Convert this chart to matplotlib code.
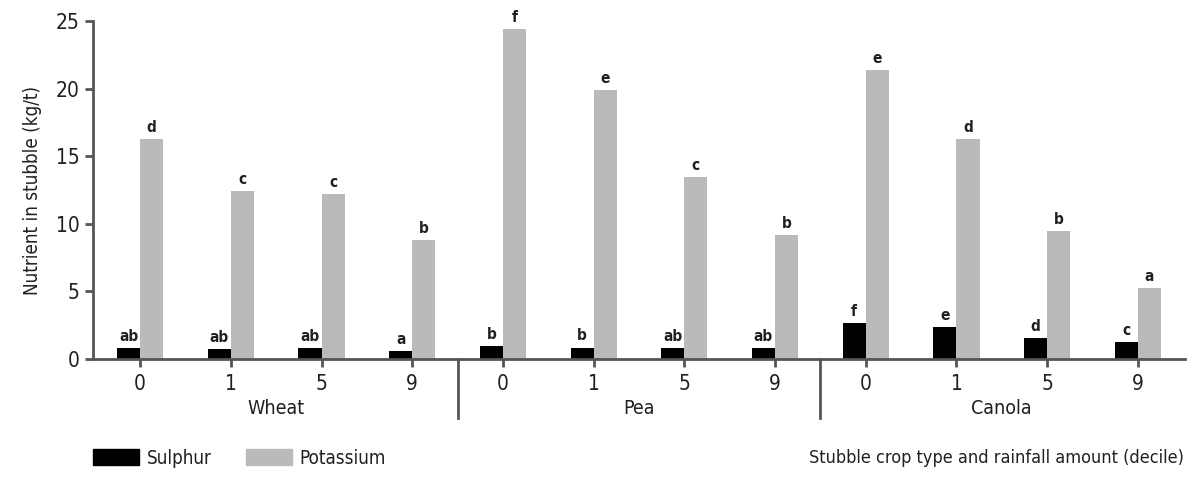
import matplotlib
matplotlib.use("Agg")
import matplotlib.pyplot as plt
from matplotlib.patches import Rectangle
import numpy as np

plt.rcParams['font.family'] = ['DejaVu Sans']
plt.rcParams['font.stretch'] = 'condensed'

crops = ['Wheat', 'Pea', 'Canola']
deciles = ['0', '1', '5', '9']
sulphur = [0.8, 0.75, 0.8, 0.6,
           0.95, 0.85, 0.8, 0.8,
           2.65, 2.35, 1.55, 1.25]
potassium = [16.25, 12.45, 12.2, 8.8,
             24.4, 19.9, 13.5, 9.2,
             21.4, 16.3, 9.5, 5.25]
sulphur_letters = ['ab', 'ab', 'ab', 'a', 'b', 'b', 'ab', 'ab', 'f', 'e', 'd', 'c']
potassium_letters = ['d', 'c', 'c', 'b', 'f', 'e', 'c', 'b', 'e', 'd', 'b', 'a']

black = '#000000'
grey = '#b9babc'
axis_col = '#555555'
text_col = '#231f20'

fig = plt.figure(figsize=(12, 4.8), dpi=100)
ax = fig.add_axes([0.0775, 0.252, 0.91, 0.704])

x = np.arange(len(sulphur))
w = 0.255
ax.bar(x - w / 2, sulphur, width=w, color=black, label='Sulphur')
ax.bar(x + w / 2, potassium, width=w, color=grey, label='Potassium')

for i in range(len(x)):
    ax.text(x[i] - w / 2, sulphur[i] + 0.3, sulphur_letters[i], ha='center', va='bottom',
            fontsize=11, fontweight='bold', color=text_col)
    ax.text(x[i] + w / 2, potassium[i] + 0.3, potassium_letters[i], ha='center', va='bottom',
            fontsize=11, fontweight='bold', color=text_col)

ax.set_xlim(-0.52, 11.52)
ax.set_ylim(0, 25)
ax.set_yticks([0, 5, 10, 15, 20, 25])
ax.set_xticks(x)
ax.set_xticklabels(deciles * 3)

for s in ['top', 'right']:
    ax.spines[s].set_visible(False)
for s in ['left', 'bottom']:
    ax.spines[s].set_color(axis_col)
    ax.spines[s].set_linewidth(2)
ax.tick_params(axis='both', colors=axis_col, width=2, length=6, labelsize=15,
               labelcolor=text_col)
ax.tick_params(axis='x', pad=5)

ax.set_ylabel('Nutrient in stubble (kg/t)', fontsize=13.5, color=text_col, labelpad=10)

# group separators and crop names
trans = ax.get_xaxis_transform()
for sep in [3.5, 7.5]:
    ax.plot([sep, sep], [0, -0.175], transform=trans, color=axis_col, lw=2, clip_on=False)
for g, name in enumerate(crops):
    ax.text(g * 4 + 1.5, -0.145, name, transform=trans, ha='center', va='center',
            fontsize=14, color=text_col)

# legend
fig.patches.append(Rectangle((93 / 1200, 1 - 465 / 480), 46 / 1200, 16 / 480,
                             transform=fig.transFigure, color=black))
fig.text(147 / 1200, 1 - 458 / 480, 'Sulphur', fontsize=13.5, va='center', color=text_col)
fig.patches.append(Rectangle((246 / 1200, 1 - 465 / 480), 46 / 1200, 16 / 480,
                             transform=fig.transFigure, color=grey))
fig.text(299 / 1200, 1 - 458 / 480, 'Potassium', fontsize=13.5, va='center', color=text_col)
fig.text(1184 / 1200, 1 - 458 / 480, 'Stubble crop type and rainfall amount (decile)',
         fontsize=13, ha='right', va='center', color=text_col)

fig.savefig('out.png', dpi=100)
